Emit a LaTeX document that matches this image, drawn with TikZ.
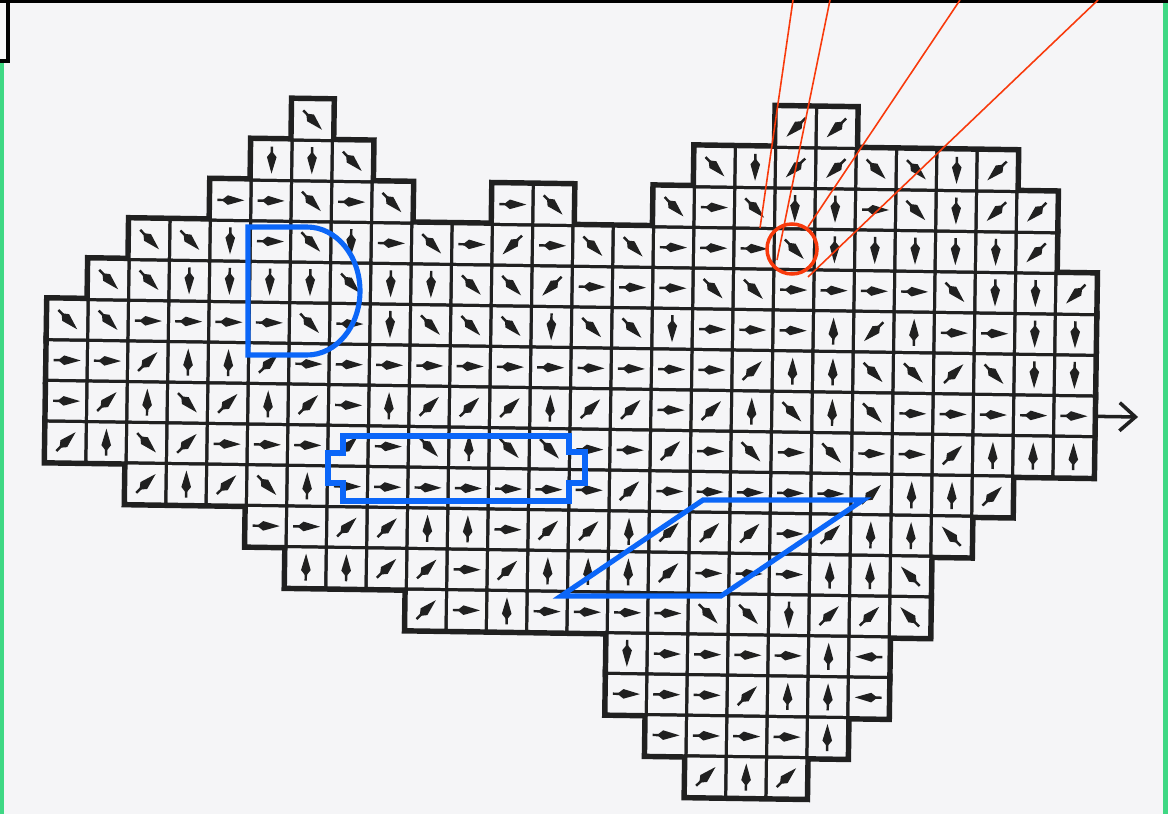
\documentclass[tikz,border=0pt]{standalone}
\usepackage{xcolor}
\definecolor{gdink}{HTML}{202020}
\definecolor{gdpaper}{HTML}{F5F5F7}
\definecolor{gdblue}{HTML}{0B66F8}
\definecolor{gdred}{HTML}{F83A0C}
\definecolor{gdgreen}{HTML}{3FD884}
\usepackage{tikz}
\usetikzlibrary{arrows.meta}
\tikzset{
  gdrim/.style  ={draw=gdink, fill=gdink, line width=4.5pt, line join=miter},
  gdhole/.style ={fill=gdpaper},
  gdcell/.style ={draw=gdink, line width=1.7pt},
  gdstem/.style ={draw=gdink, line width=1.4pt},
  gdzone/.style ={draw=gdblue, line width=2.9pt, line join=miter},
  gdray/.style  ={draw=gdred, line width=0.9pt},
  gdring/.style ={draw=gdred, line width=2pt},
  gdout/.style  ={draw=gdink, line width=2pt,
                  -{Straight Barb[length=9pt,width=16pt,line width=2pt]}},
}
% cell size in px of the scan
\newcommand{\gdw}{40.3}
\newcommand{\gdh}{40.65}
% page angles of the eight flow directions
\newcommand{\gdangE}{0}
\newcommand{\gdangNE}{45}
\newcommand{\gdangN}{90}
\newcommand{\gdangNW}{135}
\newcommand{\gdangW}{180}
\newcommand{\gdangSW}{225}
\newcommand{\gdangS}{270}
\newcommand{\gdangSE}{315}
% row/first column/last column of every run of cells
\newcommand{\gdranges}{0/6/6, 0/18/19, 1/5/7, 1/16/23, 2/4/8, 2/11/12, 2/15/24,
  3/2/24, 4/1/25, 5/0/25, 6/0/25, 7/0/25, 8/0/25, 9/2/23, 10/5/22, 11/6/21,
  12/9/21, 13/14/20, 14/14/20, 15/15/19, 16/16/18}
\newcommand{\gddart}[3]{%
  \begin{scope}[shift={({#1},{#2})}, rotate=#3]
    \draw[gdstem] (-13.5,0) -- (-7,0);
    \fill[gdink] (-9,0) -- (-3,4.8) -- (13.5,0) -- (-3,-4.8) -- cycle;
  \end{scope}}
\newcommand{\flowrow}[3]{%
  \foreach \d [count=\c from #2] in {#3}{%
    \edef\gdrot{\csname gdang\d\endcsname}%
    \gddart{(\c+0.5)*\gdw}{(#1+0.5)*\gdh}{\gdrot}}}

\begin{document}
\begin{tikzpicture}[x=0.02cm, y=-0.02cm]
  \useasboundingbox (0,0) rectangle (1168,814);
  \fill[gdpaper] (0,0) rectangle (1168,814);
  % window frame
  \fill[gdgreen] (0,62) rectangle (4,814);
  \fill[gdgreen] (1163,0) rectangle (1168,814);
  \draw[black, line width=1.8pt] (0,1.5) -- (1168,1.5);
  \draw[black, line width=1.8pt] (8,0) -- (8,61) -- (0,61);

  \begin{scope}[shift={(51,95.8)}, rotate=-0.86]
    \foreach \r/\a/\b in \gdranges
      \draw[gdrim] (\a*\gdw,\r*\gdh) rectangle ({(\b+1)*\gdw},{(\r+1)*\gdh});
    \foreach \r/\a/\b in \gdranges
      \fill[gdhole] (\a*\gdw,\r*\gdh) rectangle ({(\b+1)*\gdw},{(\r+1)*\gdh});
    \foreach \r/\a/\b in \gdranges
      \foreach \c in {\a,...,\b}
        \draw[gdcell] (\c*\gdw,\r*\gdh) rectangle ++(\gdw,\gdh);

    \flowrow{0}{6}{SE}
    \flowrow{0}{18}{SW,SW}
    \flowrow{1}{5}{S,S,SE}
    \flowrow{1}{16}{SE,S,SW,SW,SE,SE,S,SW}
    \flowrow{2}{4}{E,E,SE,E,SE}
    \flowrow{2}{11}{E,SE}
    \flowrow{2}{15}{SE,E,SE,S,S,E,SE,S,SW,SW}
    \flowrow{3}{2}{SE,SE,S,E,SE,S,E,SE,E,SW,E,SE,SE,E,E,E,SE,S,S,S,S,S,SW}
    \flowrow{4}{1}{SE,SE,S,S,S,S,SE,S,S,SE,SE,SW,E,E,E,SE,SE,E,E,E,E,SE,S,S,SW}
    \flowrow{5}{0}{SE,SE,E,E,E,E,SE,E,S,SE,SE,SE,S,SE,SE,S,E,E,E,N,SW,N,E,E,S,S}
    \flowrow{6}{0}{E,E,NE,N,N,NE,E,E,E,E,E,E,E,E,E,E,E,NE,N,N,SE,SE,NE,SE,S,S}
    \flowrow{7}{0}{E,NE,N,SE,NE,N,NE,E,N,NE,NE,NE,N,NE,NE,E,NE,N,SE,N,SE,E,E,E,E,E}
    \flowrow{8}{0}{NE,N,SE,NE,E,E,E,NE,E,SE,N,SE,SE,E,E,NE,E,SE,E,SE,E,E,NE,N,N,N}
    \flowrow{9}{2}{NE,N,NE,SE,N,E,E,E,E,E,E,E,NE,E,E,E,E,E,NE,N,N,NE}
    \flowrow{10}{5}{E,E,NE,NE,N,N,E,NE,NE,N,NE,NE,NE,E,NE,N,N,NW}
    \flowrow{11}{6}{N,N,NE,NE,E,NE,N,N,N,NE,E,E,E,N,N,NW}
    \flowrow{12}{9}{NE,E,N,E,E,E,E,SE,SE,S,NE,NE,NW}
    \flowrow{13}{14}{S,E,E,E,E,N,W}
    \flowrow{14}{14}{E,E,E,NE,N,N,W}
    \flowrow{15}{15}{E,E,E,E,N}
    \flowrow{16}{16}{NE,N,NE}

    \coordinate (outlet) at (26*\gdw,7.5*\gdh);
    \draw[gdout] (outlet) -- ++(44,0);
  \end{scope}

  % marked zones
  \draw[gdzone] (307,227) -- (248,227) -- (248,355) -- (307,355)
    arc[start angle=90, end angle=-90, x radius=53, y radius=64] -- cycle;
  \draw[gdzone] (343,436) -- (569,436) -- (569,452) -- (585,452) -- (585,483)
    -- (569,483) -- (569,501) -- (343,501) -- (343,483) -- (328,483)
    -- (328,453) -- (343,453) -- cycle;
  \draw[gdzone] (703,500) -- (863,500) -- (721,596) -- (561,596) -- cycle;

  % sight lines to the marked cell
  \coordinate (hit) at (792,249);
  \draw[gdray] (793,0) -- (760,228);
  \draw[gdray] (830,0) -- (777,260);
  \draw[gdray] (960,0) -- (808,227);
  \draw[gdray] (1098,0) -- (808,277);
  \draw[gdring] (hit) circle[radius=25];
\end{tikzpicture}
\end{document}
